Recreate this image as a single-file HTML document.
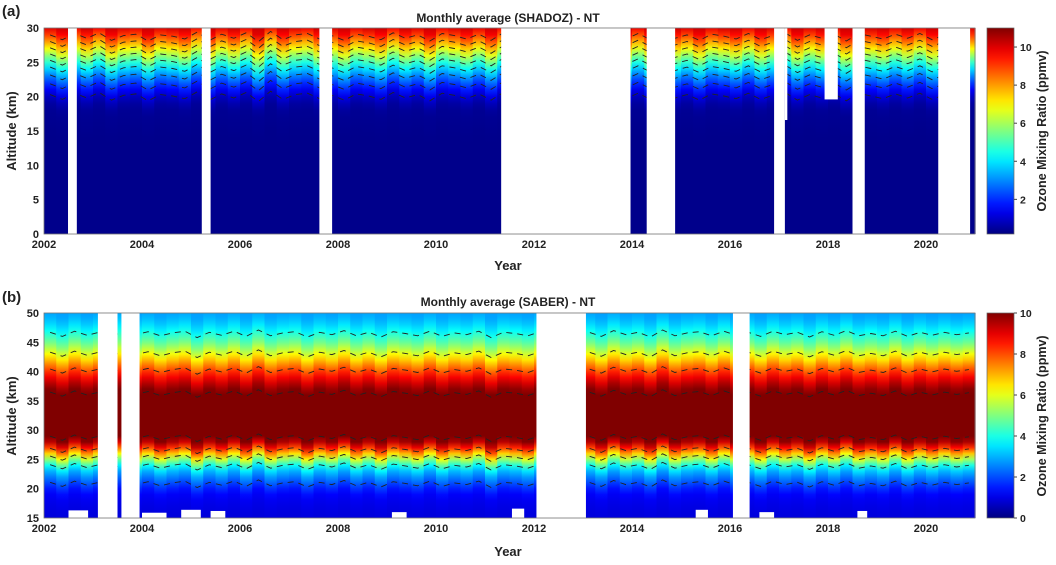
<!DOCTYPE html>
<html><head><meta charset="utf-8">
<style>
body{margin:0;background:#fff;}
svg text{font-family:"Liberation Sans",Arial,sans-serif;font-weight:bold;fill:#222;}
</style></head>
<body>
<svg id="fig" width="1056" height="560" viewBox="0 0 1056 560" xmlns="http://www.w3.org/2000/svg">
<defs id="defs"></defs>
<text x="2" y="16" font-size="15">(a)</text>
<text x="2" y="302" font-size="15">(b)</text>
<text x="508" y="22" font-size="12" text-anchor="middle">Monthly average (SHADOZ) - NT</text>
<text x="508" y="306" font-size="12" text-anchor="middle">Monthly average (SABER) - NT</text>
<text x="508" y="270" font-size="13" text-anchor="middle">Year</text>
<text x="508" y="556" font-size="13" text-anchor="middle">Year</text>
<text transform="translate(16,131) rotate(-90)" font-size="13" text-anchor="middle">Altitude (km)</text>
<text transform="translate(16,416) rotate(-90)" font-size="13" text-anchor="middle">Altitude (km)</text>
<text transform="translate(1046,131) rotate(-90)" font-size="12.5" text-anchor="middle">Ozone Mixing Ratio (ppmv)</text>
<text transform="translate(1046,416) rotate(-90)" font-size="12.5" text-anchor="middle">Ozone Mixing Ratio (ppmv)</text>
<g id="grid"></g>
<g id="layer"></g>
</svg>
<script>
// ---- data ----
const yearsStart = 2002, yearsEnd = 2021;
const altA = [0,2,4,6,8,10,12,14,16,18,19,20,21,22,23,24,25,26,27,28,29,30];
const profA = [0.3,0.3,0.3,0.3,0.3,0.3,0.3,0.3,0.35,0.4,0.6,1.0,1.6,2.3,3.1,4.0,5.0,6.1,7.2,8.3,9.3,10.2];
const altB = [15,17,19,20,21,22,23,24,25,26,27,28,29,30,32,34,36,37,38,39,40,41,42,43,44,45,46,47,48,49,50];
const profB = [0.9,1.0,1.2,1.6,2.1,2.6,3.2,4.2,5.6,7.1,8.6,9.8,10.4,10.6,10.7,10.6,10.3,9.8,9.3,8.7,8.1,7.4,6.7,6.0,5.3,4.7,4.2,3.7,3.3,3.0,2.8];
const shiftA = [0.3,-0.4,0.5,-0.2,0.6,-0.5,0.2,0.4,-0.6,0.3,0.1,-0.3,0.7,-0.5,0.4,-0.2,0.6,-0.7,0.8,-0.4,0.3,0.5,-0.3,0.2,-0.5,0.4,0.1,-0.4,0.6,-0.2,0.3,-0.6,0.5,0.2,-0.3,0.4,-0.5,0.6,-0.1,0.3,-0.4,0.5,-0.2,0.4,-0.6,0.3,0.2,-0.3,0.5,-0.4,0.6,-0.2,0.3,-0.5,0.4,0.1,-0.3,0.5,-0.4,0.2,0.6,-0.5,0.3,-0.2,0.4,-0.6,0.5,0.1,-0.3,0.4,-0.2,0.5,-0.4,0.3,-0.1,0.2];
const shiftB = [0.3,-0.4,0.5,-0.2,0.3,-0.5,0.6,-0.1,0.4,-0.3,0.2,0.5,-0.6,0.3,-0.2,0.5,-0.4,0.7,-0.3,0.2,0.4,-0.5,0.3,-0.1,0.6,-0.3,0.3,-0.5,0.4,0.1,-0.3,0.5,-0.4,0.2,-0.1,0.5,-0.6,0.3,0.1,-0.3,0.4,-0.5,0.5,-0.2,0.3,-0.4,0.6,-0.1,0.3,-0.5,0.7,-0.3,0.2,0.4,-0.3,0.5,-0.2,0.3,-0.4,0.5,-0.1,0.3,-0.5,0.4,-0.2,0.6,-0.3,0.1,-0.3,0.5,-0.4,0.3,-0.2,0.3,-0.1,0.2];
const gapsA = [[2002.49,2002.67,0,30],[2005.22,2005.4,0,30],[2007.62,2007.88,0,30],[2011.33,2013.97,0,30],[2014.3,2014.88,0,30],[2016.9,2017.12,0,30],[2017.12,2017.17,16.6,30],[2017.93,2018.2,19.6,30],[2018.5,2018.75,0,30],[2020.25,2020.9,0,30]];
const gapsB = [[2003.1,2003.5,15,50],[2003.58,2003.95,15,50],[2012.05,2013.06,15,50],[2016.06,2016.4,15,50],[2002.5,2002.9,15,16.3],[2004,2004.5,15,15.9],[2004.8,2005.2,15,16.4],[2005.4,2005.7,15,16.2],[2009.1,2009.4,15,16],[2011.55,2011.8,15,16.6],[2015.3,2015.55,15,16.4],[2016.6,2016.9,15,16],[2018.6,2018.8,15,16.2]];
const levelsA = [1,2,3,4,5,6,7,8,9];
const levelsB = [2,4,6,8,10.2];
const xTicks = [2002,2004,2006,2008,2010,2012,2014,2016,2018,2020];
const yTicksA = [0,5,10,15,20,25,30];
const yTicksB = [15,20,25,30,35,40,45,50];
const cbTicksA = [2,4,6,8,10];
const cbTicksB = [0,2,4,6,8,10];

// ---- helpers ----
const NS="http://www.w3.org/2000/svg";
const layer=document.getElementById('layer'), defs=document.getElementById('defs'), grid=document.getElementById('grid');
function mk(t,a,p){const e=document.createElementNS(NS,t);for(const k in a)e.setAttribute(k,a[k]);(p||layer).appendChild(e);return e;}
function jet(t){t=Math.max(0,Math.min(1,t));
 const f=(x)=>Math.max(0,Math.min(1,1.5-Math.abs(4*t-x)));
 return `rgb(${Math.round(f(3)*255)},${Math.round(f(2)*255)},${Math.round(f(1)*255)})`;}
function interp(xs,ys,x){if(x<=xs[0])return ys[0];for(let i=1;i<xs.length;i++)if(x<=xs[i]){const r=(x-xs[i-1])/(xs[i]-xs[i-1]);return ys[i-1]+r*(ys[i]-ys[i-1]);}return ys[ys.length-1];}
const X0=44,X1=975;
const xs=(y)=>X0+(y-yearsStart)/(yearsEnd-yearsStart)*(X1-X0);

function panel(id,top,bot,aMin,aMax,alts,prof,shifts,gaps,levels,yTicks,vMin,vMax,cbTicks){
 const ys=(a)=>bot-(a-aMin)/(aMax-aMin)*(bot-top);
 yTicks.forEach(t=>{
  const gl=mk('line',{x1:X0,x2:X1,y1:ys(t),y2:ys(t),stroke:'#e2e2e2','stroke-width':0.8},grid);
  
  
 });
 const n=shifts.length, cw=(X1-X0)/n;
 const branches={};
 for(let i=0;i<n;i++){
  const s=shifts[i];
  const gid=id+'g'+i;
  const g=mk('linearGradient',{id:gid,x1:0,y1:1,x2:0,y2:0},defs);
  for(let a=aMin;a<=aMax;a+=1){
   const v=interp(alts,prof,a-s);
   mk('stop',{offset:((a-aMin)/(aMax-aMin)).toFixed(3),'stop-color':jet((v-vMin)/(vMax-vMin))},g);
  }
  const r=mk('rect',{x:(X0+i*cw).toFixed(2),y:top,width:(cw+0.6).toFixed(2),height:bot-top,fill:`url(#${gid})`});
  
  
  levels.forEach((L,k)=>{
   let occ=0;
   for(let j=1;j<alts.length;j++){
    const p0=prof[j-1],p1=prof[j];
    if((p0<L&&p1>=L)||(p0>L&&p1<=L)){
     const a=alts[j-1]+(L-p0)/(p1-p0)*(alts[j]-alts[j-1])+s;
     const key=k+'_'+occ; occ++;
     if(!branches[key])branches[key]=[];
     if(a>aMin&&a<aMax)branches[key].push([X0+(i+0.5)*cw,ys(a)]);
    }
   }
  });
 }
 Object.values(branches).forEach((pts)=>{
  if(pts.length<2)return;
  const l=mk('polyline',{points:pts.map(p=>p[0].toFixed(1)+','+p[1].toFixed(1)).join(' '),fill:'none',stroke:'#222','stroke-width':0.9,'stroke-dasharray':'6,5'});
  
  
 });
 gaps.forEach(g=>{
  const r=mk('rect',{x:xs(g[0]),y:ys(g[3]),width:xs(g[1])-xs(g[0]),height:ys(g[2])-ys(g[3]),fill:'#fff'});
  
  
 });
 yTicks.forEach(t=>{
  const tx=mk('text',{x:X0-5,y:ys(t)+4,'font-size':11,'text-anchor':'end'});
  tx.textContent=t;
  
  
 });
 xTicks.forEach(t=>{
  const tx=mk('text',{x:xs(t),y:bot+14,'font-size':11,'text-anchor':'middle'});
  tx.textContent=t;
  
  
 });
 const fr=mk('rect',{x:X0,y:top,width:X1-X0,height:bot-top,fill:'none',stroke:'#777','stroke-width':0.8});
 
 
 // colorbar
 const cx=987,cw2=27;
 const cg=mk('linearGradient',{id:id+'cb',x1:0,y1:1,x2:0,y2:0},defs);
 for(let k=0;k<=20;k++)mk('stop',{offset:k/20,'stop-color':jet(k/20)},cg);
 const cb=mk('rect',{x:cx,y:top,width:cw2,height:bot-top,fill:`url(#${id}cb)`,stroke:'#666','stroke-width':0.7});
 
 
 const cy=(v)=>bot-(v-vMin)/(vMax-vMin)*(bot-top);
 cbTicks.forEach(t=>{
  mk('line',{x1:cx+cw2,x2:cx+cw2+3,y1:cy(t),y2:cy(t),stroke:'#444'});
  const tx=mk('text',{x:cx+cw2+6,y:cy(t)+4,'font-size':10.5});
  tx.textContent=t;
  
  
 });
}
panel('panel-a',28,234,0,30,altA,profA,shiftA,gapsA,levelsA,yTicksA,0.18,11,cbTicksA);
panel('panel-b',313,518,15,50,altB,profB,shiftB,gapsB,levelsB,yTicksB,0,10,cbTicksB);
</script>
</body></html>
